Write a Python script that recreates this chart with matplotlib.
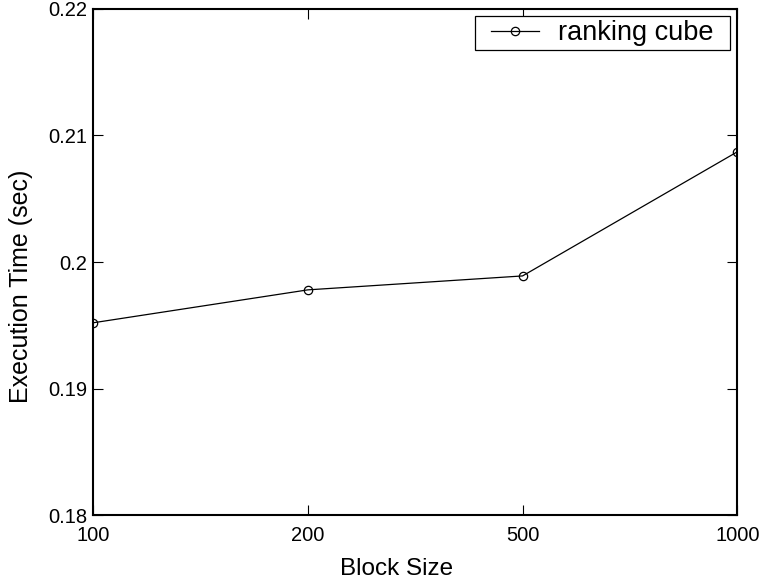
import matplotlib
matplotlib.use("Agg")
import matplotlib.pyplot as plt
from matplotlib.legend_handler import HandlerLine2D

plt.rcParams['font.family'] = ['Liberation Sans', 'DejaVu Sans']

block_sizes = ['100', '200', '500', '1000']
exec_time = [0.1952, 0.1978, 0.1989, 0.2087]
y_ticks = [0.18, 0.19, 0.2, 0.21, 0.22]
y_tick_labels = ['0.18', '0.19', '0.2', '0.21', '0.22']


class InsetLine(HandlerLine2D):
    # leave some room on the left of the legend sample line
    def get_xdata(self, legend, xdescent, ydescent, width, height, fontsize):
        x0 = -xdescent + 0.45 * fontsize
        x1 = width - xdescent
        return [x0, x1], [(x0 + x1) / 2]


fig = plt.figure(figsize=(7.61, 5.83), dpi=100)
ax = fig.add_axes([0.1222, 0.1160, 0.8467, 0.8692])

x = range(len(block_sizes))
line, = ax.plot(x, exec_time, color='black', linewidth=0.9, marker='o',
                markersize=6, markerfacecolor='none', markeredgewidth=0.9,
                label='ranking cube')

ax.set_xlim(0, len(block_sizes) - 1)
ax.set_ylim(0.18, 0.22)
ax.set_xticks(list(x))
ax.set_xticklabels(block_sizes)
ax.set_yticks(y_ticks)
ax.set_yticklabels(y_tick_labels)

ax.tick_params(direction='in', length=7, width=0.8, top=True, right=True,
               labelsize=14.5, pad=4)
ax.tick_params(axis='x', pad=7.5)
for s in ax.spines.values():
    s.set_linewidth(1.5)

ax.set_xlabel('Block Size', fontsize=17.5)
ax.set_ylabel('Execution Time (sec)', fontsize=18)
ax.xaxis.set_label_coords(0.4705, -0.084)
ax.yaxis.set_label_coords(-0.093, 0.452)

leg = ax.legend(handler_map={line: InsetLine()},
                bbox_to_anchor=(0.593, 0.9854, 0.396, 0.0), loc='upper left',
                mode='expand', borderaxespad=0, fontsize=19.5, fancybox=False,
                edgecolor='black', framealpha=1, handlelength=2.2,
                handletextpad=0.7, borderpad=0.15)
leg.get_frame().set_linewidth(0.9)

fig.savefig('out.png', dpi=100)
